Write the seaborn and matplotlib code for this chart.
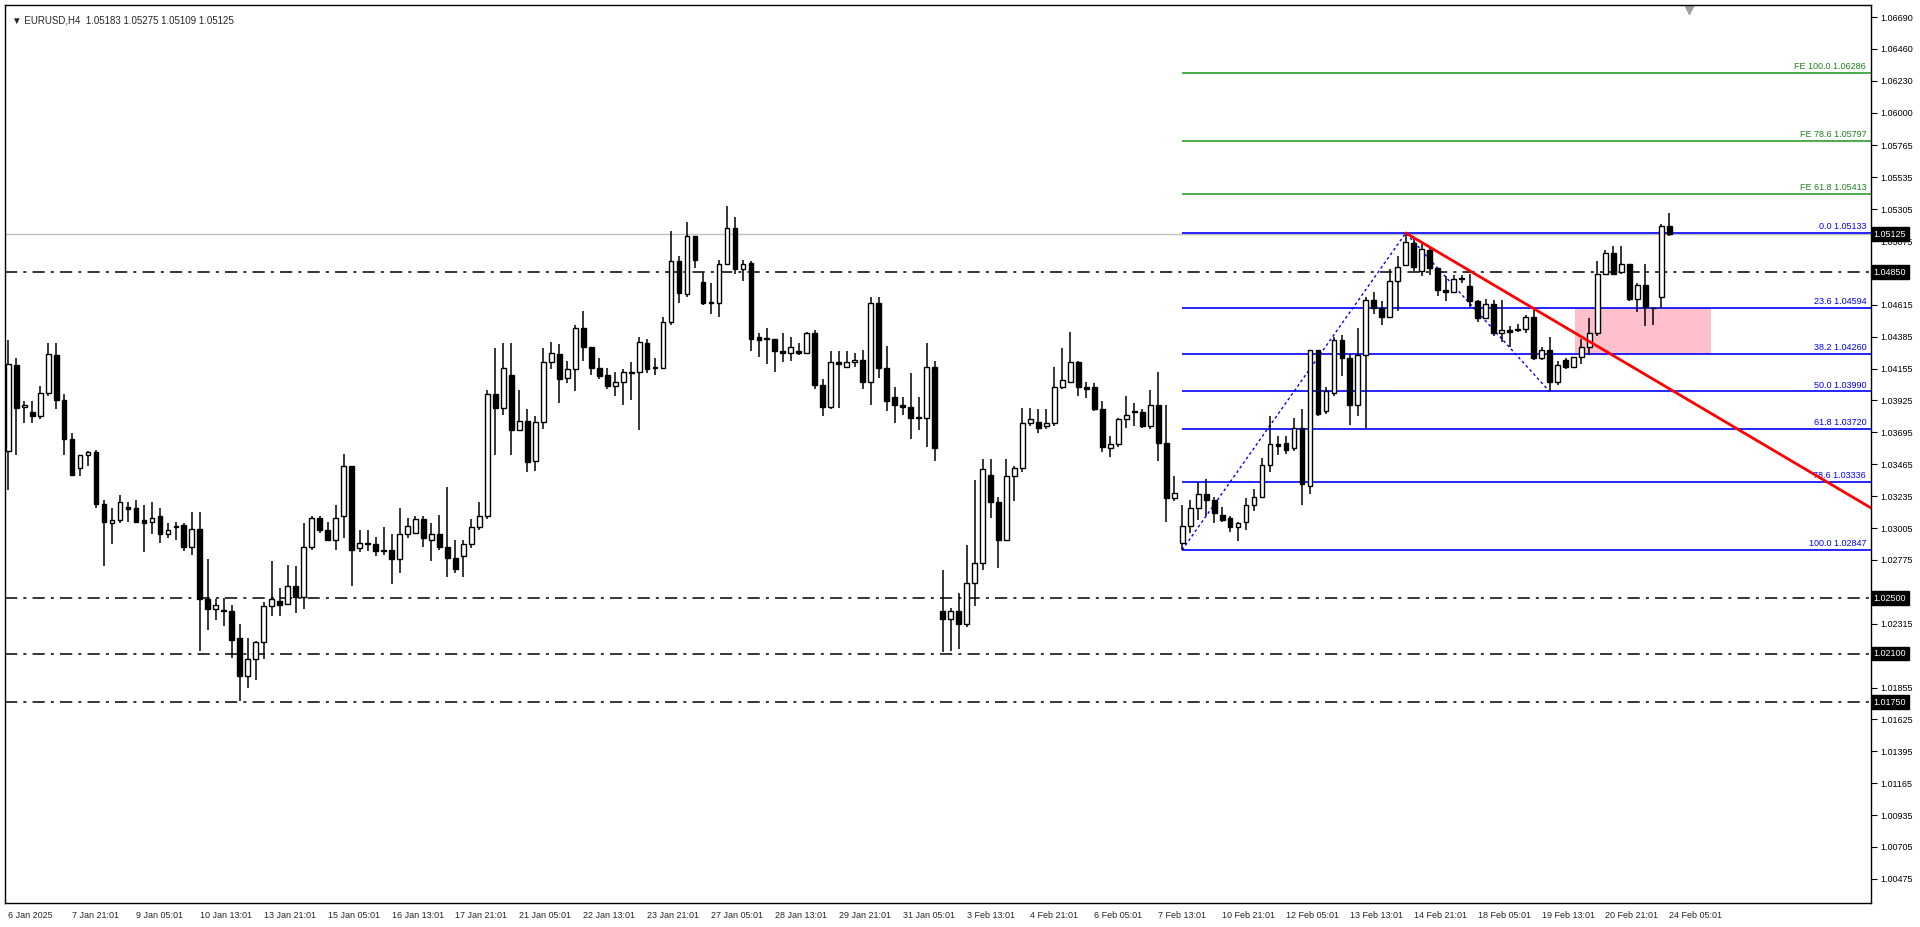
import matplotlib
matplotlib.use("Agg")
import matplotlib.pyplot as plt
import matplotlib.transforms as mtransforms
from matplotlib.patches import Rectangle
from matplotlib import font_manager
import seaborn as sns
import pandas as pd

sns.set_style("white")
_names = {f.name for f in font_manager.fontManager.ttflist}
FAM = ['Liberation Sans Narrow', 'DejaVu Sans'] if 'Liberation Sans Narrow' in _names else ['Liberation Sans', 'DejaVu Sans']
plt.rcParams['font.family'] = FAM
FS = 7.5 if FAM[0] == 'Liberation Sans Narrow' else 6.5

opens = [1.0356,1.0418,1.0388,1.0384,1.0381,1.0398,1.0425,1.0393,1.0365,1.0344,1.0353,1.0355,1.0318,1.0304,1.0306,1.0316,1.0315,1.0306,1.0305,1.0309,
 1.0296,1.0301,1.0303,1.0287,1.0300,1.0249,1.0242,1.0241,1.0241,1.0221,1.0194,1.0206,1.0218,1.0244,1.0248,1.0246,1.0259,1.0251,1.0287,1.0308,
 1.0299,1.0292,1.0309,1.0345,1.0286,1.0290,1.0289,1.0284,1.0285,1.0278,1.0296,1.0297,1.0307,1.0292,1.0296,1.0287,1.0279,1.0280,1.0289,1.0301,
 1.0309,1.0397,1.0387,1.0411,1.0371,1.0378,1.0349,1.0377,1.0420,1.0426,1.0409,1.0415,1.0445,1.0431,1.0416,1.0411,1.0403,1.0406,1.0413,1.0413,
 1.0434,1.0416,1.0416,1.0449,1.0493,1.0469,1.0511,1.0478,1.0463,1.0463,1.0491,1.0517,1.0487,1.0492,1.0438,1.0437,1.0437,1.0428,1.0427,1.0428,
 1.0427,1.0441,1.0404,1.0388,1.0420,1.0417,1.0420,1.0422,1.0406,1.0463,1.0416,1.0395,1.0389,1.0388,1.0380,1.0380,1.0417,1.0241,1.0235,1.0241,
 1.0231,1.0261,1.0275,1.0339,1.0319,1.0292,1.0338,1.0344,1.0376,1.0377,1.0374,1.0376,1.0402,1.0406,1.0420,1.0402,1.0402,1.0386,1.0358,1.0361,
 1.0379,1.0385,1.0384,1.0374,1.0389,1.0362,1.0322,1.0290,1.0302,1.0315,1.0325,1.0321,1.0310,1.0308,1.0301,1.0305,1.0317,1.0323,1.0346,1.0361,
 1.0362,1.0358,1.0373,1.0331,1.0429,1.0385,1.0398,1.0436,1.0423,1.0389,1.0425,1.0465,1.0459,1.0453,1.0479,1.0490,1.0506,1.0486,1.0501,1.0488,
 1.0472,1.0471,1.0480,1.0475,1.0464,1.0452,1.0462,1.0441,1.0443,1.0444,1.0444,1.0453,1.0423,1.0429,1.0406,1.0422,1.0417,1.0424,1.0431,1.0441,
 1.0484,1.0499,1.0485,1.0491,1.0466,1.0476,1.0459,1.0467,1.05183]
highs = [1.0436,1.0423,1.0392,1.0392,1.0403,1.0434,1.0434,1.0397,1.0369,1.0353,1.0356,1.0357,1.0321,1.0315,1.0324,1.0319,1.0321,1.0317,1.0319,1.0315,
 1.0304,1.0305,1.0304,1.0312,1.0312,1.0278,1.0249,1.0250,1.0245,1.0231,1.0221,1.0219,1.0247,1.0277,1.0257,1.0274,1.0273,1.0304,1.0309,1.0309,
 1.0305,1.0317,1.0354,1.0345,1.0299,1.0299,1.0294,1.0301,1.0296,1.0315,1.0308,1.0309,1.0309,1.0304,1.0310,1.0330,1.0292,1.0292,1.0307,1.0319,
 1.0400,1.0430,1.0434,1.0434,1.0400,1.0386,1.0381,1.0430,1.0435,1.0433,1.0421,1.0447,1.0457,1.0431,1.0423,1.0416,1.0413,1.0415,1.0420,1.0438,
 1.0437,1.0423,1.0453,1.0515,1.0497,1.0521,1.0511,1.0485,1.0477,1.0494,1.0533,1.0525,1.0494,1.0493,1.0441,1.0445,1.0437,1.0441,1.0438,1.0434,
 1.0442,1.0443,1.0408,1.0428,1.0428,1.0428,1.0427,1.0429,1.0467,1.0467,1.0432,1.0402,1.0395,1.0412,1.0395,1.0434,1.0421,1.0270,1.0243,1.0254,
 1.0288,1.0335,1.0350,1.0350,1.0323,1.0350,1.0345,1.0387,1.0387,1.0386,1.0386,1.0417,1.0430,1.0442,1.0421,1.0406,1.0405,1.0392,1.0367,1.0380,
 1.0396,1.0391,1.0386,1.0400,1.0413,1.0389,1.0338,1.0317,1.0321,1.0334,1.0336,1.0323,1.0316,1.0309,1.0305,1.0322,1.0329,1.0351,1.0381,1.0367,
 1.0367,1.0380,1.0386,1.0429,1.0429,1.0402,1.0438,1.0440,1.0426,1.0445,1.0467,1.0471,1.0464,1.0487,1.0497,1.05133,1.0509,1.0505,1.0503,1.0488,
 1.0482,1.0483,1.0483,1.0484,1.0465,1.0466,1.0465,1.0465,1.0446,1.0448,1.0454,1.0458,1.0431,1.0438,1.0421,1.0423,1.0424,1.0437,1.0452,1.0493,
 1.0501,1.0504,1.0504,1.0491,1.0477,1.0491,1.0460,1.0520,1.05275]
lows = [1.0328,1.0353,1.0376,1.0376,1.0379,1.0396,1.0386,1.0353,1.0338,1.0338,1.0345,1.0315,1.0273,1.0289,1.0304,1.0305,1.0305,1.0283,1.0296,1.0290,
 1.0293,1.0292,1.0284,1.0281,1.0212,1.0227,1.0234,1.0230,1.0207,1.0176,1.0185,1.0191,1.0206,1.0237,1.0237,1.0245,1.0239,1.0242,1.0285,1.0297,
 1.0291,1.0285,1.0293,1.0259,1.0283,1.0284,1.0280,1.0281,1.0260,1.0268,1.0293,1.0297,1.0287,1.0277,1.0285,1.0265,1.0268,1.0265,1.0286,1.0299,
 1.0307,1.0353,1.0382,1.0353,1.0371,1.0341,1.0342,1.0372,1.0415,1.0391,1.0405,1.0399,1.0421,1.0411,1.0408,1.0401,1.0396,1.0389,1.0393,1.0371,
 1.0412,1.0411,1.0415,1.0447,1.0463,1.0467,1.0488,1.0461,1.0455,1.0453,1.0490,1.0484,1.0479,1.0428,1.0424,1.0419,1.0413,1.0420,1.0421,1.0425,
 1.0426,1.0401,1.0381,1.0386,1.0387,1.0417,1.0417,1.0401,1.0389,1.0409,1.0385,1.0376,1.0382,1.0365,1.0371,1.0359,1.0349,1.0211,1.0212,1.0213,
 1.0229,1.0244,1.0270,1.0308,1.0272,1.0292,1.0320,1.0341,1.0374,1.0369,1.0372,1.0374,1.0401,1.0405,1.0396,1.0394,1.0385,1.0355,1.0352,1.0359,
 1.0373,1.0374,1.0373,1.0372,1.0349,1.0305,1.0320,1.02847,1.0297,1.0306,1.0309,1.0304,1.0305,1.0298,1.0291,1.0299,1.0313,1.0322,1.0341,1.0353,
 1.0354,1.0356,1.0317,1.0325,1.0381,1.0383,1.0396,1.0410,1.0375,1.0381,1.0373,1.0455,1.0447,1.0453,1.0457,1.0490,1.0486,1.0482,1.0483,1.0468,
 1.0464,1.0470,1.0477,1.0460,1.0449,1.0451,1.0439,1.0435,1.0431,1.0442,1.0441,1.0422,1.0422,1.03990,1.0404,1.0415,1.0417,1.0419,1.0425,1.0439,
 1.0483,1.0483,1.0484,1.0464,1.0456,1.0446,1.0447,1.0459,1.05109]
closes = [1.0419,1.0387,1.0389,1.0381,1.0398,1.0426,1.0393,1.0365,1.0339,1.0353,1.0355,1.0318,1.0305,1.0306,1.0319,1.0314,1.0305,1.0304,1.0308,1.0296,
 1.0299,1.0302,1.0287,1.0300,1.0249,1.0242,1.0245,1.0241,1.0220,1.0194,1.0206,1.0218,1.0244,1.0249,1.0245,1.0259,1.0251,1.0287,1.0308,1.0299,
 1.0292,1.0308,1.0345,1.0285,1.0290,1.0289,1.0284,1.0285,1.0278,1.0296,1.0302,1.0307,1.0293,1.0296,1.0287,1.0279,1.0271,1.0289,1.0301,1.0309,
 1.0397,1.0387,1.0416,1.0371,1.0378,1.0348,1.0377,1.0420,1.0427,1.0408,1.0415,1.0445,1.0431,1.0416,1.0410,1.0403,1.0406,1.0413,1.0412,1.0435,
 1.0415,1.0416,1.0449,1.0493,1.0470,1.0511,1.0494,1.0463,1.0463,1.0491,1.0517,1.0487,1.0491,1.0437,1.0436,1.0437,1.0428,1.0427,1.0431,1.0427,
 1.0441,1.0404,1.0388,1.0420,1.0419,1.0420,1.0422,1.0406,1.0463,1.0416,1.0392,1.0389,1.0388,1.0380,1.0380,1.0417,1.0358,1.0235,1.0241,1.0231,
 1.0261,1.0275,1.0343,1.0319,1.0292,1.0338,1.0344,1.0376,1.0379,1.0373,1.0376,1.0402,1.0407,1.0420,1.0402,1.0401,1.0386,1.0359,1.0361,1.0379,
 1.0382,1.0384,1.0374,1.0389,1.0362,1.0322,1.0326,1.0302,1.0315,1.0325,1.0321,1.0311,1.0306,1.0301,1.0304,1.0317,1.0323,1.0346,1.0361,1.0360,
 1.0357,1.0373,1.0332,1.0429,1.0383,1.0399,1.0436,1.0423,1.0389,1.0425,1.0465,1.0459,1.0453,1.0479,1.0489,1.0507,1.0489,1.0502,1.0488,1.0472,
 1.0471,1.0480,1.0481,1.0464,1.0452,1.0462,1.0441,1.0443,1.0442,1.0443,1.0453,1.0423,1.0429,1.0406,1.0418,1.0417,1.0424,1.0431,1.0441,1.0484,
 1.0499,1.0484,1.0491,1.0466,1.0476,1.0460,1.0459,1.0518,1.05125]

date_labels = ["6 Jan 2025","7 Jan 21:01","9 Jan 05:01","10 Jan 13:01","13 Jan 21:01","15 Jan 05:01",
 "16 Jan 13:01","17 Jan 21:01","21 Jan 05:01","22 Jan 13:01","23 Jan 21:01","27 Jan 05:01","28 Jan 13:01",
 "29 Jan 21:01","31 Jan 05:01","3 Feb 13:01","4 Feb 21:01","6 Feb 05:01","7 Feb 13:01","10 Feb 21:01",
 "12 Feb 05:01","13 Feb 13:01","14 Feb 21:01","18 Feb 05:01","19 Feb 13:01","20 Feb 21:01","24 Feb 05:01"]
bars_per_label = 8
price_ticks = [1.06690,1.06460,1.06230,1.06000,1.05765,1.05535,1.05305,1.05075,1.04615,1.04385,1.04155,
 1.03925,1.03695,1.03465,1.03235,1.03005,1.02775,1.02315,1.01855,1.01625,1.01395,1.01165,1.00935,1.00705,1.00475]
sr_levels = [1.04850, 1.02500, 1.02100, 1.01750]
bid = 1.05125
fib_names = ["0.0","23.6","38.2","50.0","61.8","78.6","100.0"]
fib_values = [1.05133,1.04594,1.04260,1.03990,1.03720,1.03336,1.02847]
fe_names = ["FE 61.8","FE 78.6","FE 100.0"]
fe_values = [1.05413,1.05797,1.06286]
fib_start_bar = 147
pivot_bar = 175
pullback_bar = 193
trend_end = 1.0315
zone_bars = (196.2, 213.2)
zone_prices = (1.04260, 1.04594)
title = "EURUSD,H4  1.05183 1.05275 1.05109 1.05125"

df = pd.DataFrame({"o": opens, "h": highs, "l": lows, "c": closes})
df["i"] = range(len(df))

fig = plt.figure(figsize=(19.2, 9.27), dpi=100)
ax = fig.add_axes([5/1920, 24/927, 1866/1920, 898/927])
XMAX = 233.25
ax.set_xlim(-0.4, XMAX)
ax.set_ylim(1.00301, 1.06777)

ax.add_patch(Rectangle((zone_bars[0], zone_prices[0]), zone_bars[1]-zone_bars[0],
                       zone_prices[1]-zone_prices[0], facecolor="#ffc0cb", edgecolor="none", zorder=1))

ax.axhline(bid, color="#c0c0c0", lw=1, zorder=1)
for v in sr_levels:
    ax.axhline(v, color="black", lw=1.1, ls=(0, (8, 4, 2, 4)), zorder=1)
for n, v in zip(fib_names, fib_values):
    ax.hlines(v, fib_start_bar, XMAX, color="#0000ff", lw=1.2, zorder=2)
    ax.text(XMAX-0.6, v+0.00012, f"{n} {v:.5f}", color="#0000ff", fontsize=FS, ha="right", va="bottom", zorder=6)
for n, v in zip(fe_names, fe_values):
    ax.hlines(v, fib_start_bar, XMAX, color="#2ca02c", lw=1.2, zorder=2)
    ax.text(XMAX-0.6, v+0.00012, f"{n} {v:.5f}", color="#208020", fontsize=FS, ha="right", va="bottom", zorder=6)

leg = pd.DataFrame({"x": [fib_start_bar, pivot_bar, pullback_bar],
                    "y": [lows[fib_start_bar], highs[pivot_bar], lows[pullback_bar]]})
sns.lineplot(data=leg, x="x", y="y", ax=ax, color="#0000ff", lw=1, linestyle=(0, (2, 2)), zorder=3)

up = df[df.c >= df.o]
dn = df[df.c < df.o]
ax.vlines(df.i, df.l, df.h, color="black", lw=1.1, zorder=4)
ax.bar(up.i, (up.c-up.o).clip(lower=0.00003), bottom=up.o, width=0.6, facecolor="white",
       edgecolor="black", lw=1, zorder=5)
ax.bar(dn.i, (dn.o-dn.c).clip(lower=0.00003), bottom=dn.c, width=0.6, facecolor="black",
       edgecolor="black", lw=1, zorder=5)

ax.plot([pivot_bar, XMAX], [highs[pivot_bar], trend_end], color="#ff0000", lw=2, zorder=6)

for s in ax.spines.values():
    s.set_color("black"); s.set_linewidth(1)
ax.yaxis.tick_right()
ax.set_yticks(price_ticks)
ax.set_yticklabels([f"{t:.5f}" for t in price_ticks])
ax.tick_params(axis="y", labelsize=FS, length=4, direction="out", pad=3, colors="black")
ax.set_xticks([k*bars_per_label for k in range(len(date_labels))])
ax.set_xticklabels(date_labels)
for lab in ax.get_xticklabels():
    lab.set_ha("left")
ax.tick_params(axis="x", labelsize=FS, length=4, direction="out", pad=2)
ax.set_xlabel(""); ax.set_ylabel("")

tr = mtransforms.blended_transform_factory(ax.transAxes, ax.transData)
for v in sr_levels + [bid]:
    ax.text(1.0015, v, f"{v:.5f}", transform=tr, fontsize=FS, color="white", ha="left", va="center",
            bbox=dict(boxstyle="square,pad=0.25", facecolor="black", edgecolor="black"), zorder=10, clip_on=False)

ax.text(0.004, 0.988, "\u25bc " + title, transform=ax.transAxes, fontsize=FS+0.5, ha="left", va="top",
        family=FAM + ['DejaVu Sans'])
ax.plot([1684/1920*233.25/(1866/1920)], [1.0674], marker="v", color="#a0a0a0", markersize=6, clip_on=False)

fig.savefig("out.png", dpi=100, facecolor="white")
